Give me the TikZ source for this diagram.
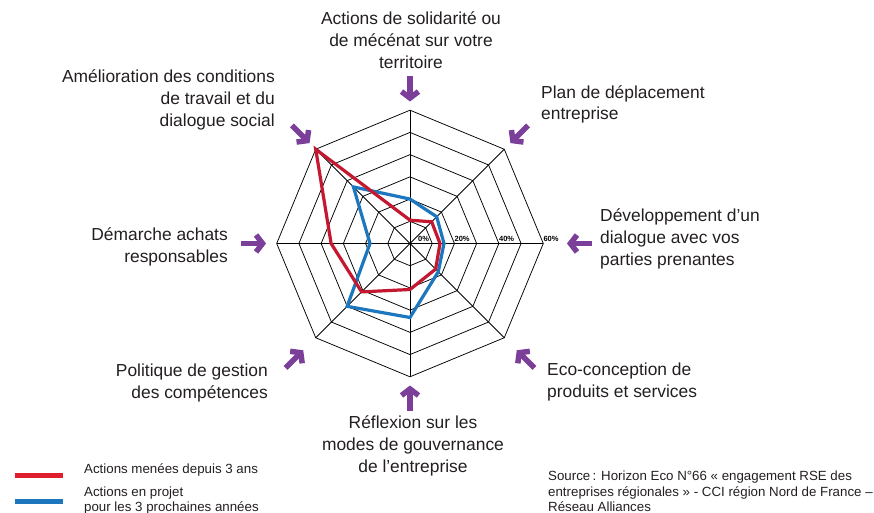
\documentclass[tikz,border=0pt]{standalone}
\usepackage{fontspec}
\setmainfont{Liberation Sans}
\usetikzlibrary{arrows.meta}
\definecolor{rougeserie}{HTML}{C3182F}
\definecolor{rougeleg}{HTML}{DF1F2D}
\definecolor{bleuserie}{HTML}{1C77BE}
\definecolor{violetfl}{HTML}{7B3F99}
\definecolor{texte}{HTML}{231F20}
\tikzset{
    grille/.style={black, line width=0.75pt}, % 网格线
    serie/.style={line width=3.2pt}, % 数据折线
    fleche/.style={violetfl, line width=5.5pt, -{Straight Barb[length=6.5pt, width=17pt]}}, % 紫色箭头
    axe label/.style={font=\fontsize{17.4}{21.8}\selectfont, text=texte, inner sep=0pt},
    petit/.style={font=\fontsize{13.3}{15.5}\selectfont, text=texte, inner sep=0pt}
}
\begin{document}
\begin{tikzpicture}[x=1pt, y=1pt]
            \def\u{2.222} \def\R{133.3}
            \useasboundingbox (-410, -269.5) rectangle (464, 243.5);

            \foreach \k in {1,...,6} {\draw[grille] (0:\k*\R/6) \foreach \a in {45,90,...,315} {-- (\a:\k*\R/6)} -- cycle;}
            \foreach \a in {0,45,...,315} {\draw[grille] (0,0) -- (\a:\R);}
            \foreach \p/\r in {0/8, 20/44.4, 40/88.9, 60/133.3} {\node[anchor=base west, inner sep=0pt, font=\fontsize{7.5}{8}\selectfont\bfseries] (pct\p) at (\r, 2) {\p\%};}

            \draw[serie, bleuserie] (90:20*\u) -- (45:17*\u) -- (0:15.3*\u) -- (-45:18*\u) -- (-90:33.3*\u) -- (-135:40*\u) -- (180:18*\u) -- (135:36*\u) -- cycle;
            \draw[serie, rougeserie] (90:10.5*\u) -- (45:13.8*\u) -- (0:13.5*\u) -- (-45:16.3*\u) -- (-90:20.7*\u) -- (-135:30.8*\u) -- (180:35.5*\u) -- (135:60*\u) -- cycle;

            \foreach \a/\r [count=\i] in {90/142, 45/142, 0/157, -45/151, -90/142, -135/151, 180/144, 135/142} {
                \coordinate (pointe\i) at (\a:\r);
                \coordinate (queue\i) at (\a:\r+25);
                \draw[fleche] (queue\i) -- (pointe\i);
            }

            \node[axe label, align=center] (solidarite) at (1, 203.5) {Actions de solidarité ou\\de mécénat sur votre\\territoire};
            \node[axe label, align=left, anchor=west] (deplacement) at (131, 139) {Plan de déplacement\\entreprise};
            \node[axe label, align=left, anchor=west] (dialogue) at (190, 4.5) {Développement d’un\\dialogue avec vos\\parties prenantes};
            \node[axe label, align=left, anchor=west] (ecoconception) at (137, -138.5) {Eco-conception de\\produits et services};
            \node[axe label, align=center] (gouvernance) at (3, -202.5) {Réflexion sur les\\modes de gouvernance\\de l’entreprise};
            \node[axe label, align=right, anchor=east] (competences) at (-142, -139.5) {Politique de gestion\\des compétences};
            \node[axe label, align=right, anchor=east] (achats) at (-182, -3.5) {Démarche achats\\responsables};
            \node[axe label, align=right, anchor=east] (conditions) at (-135, 143.5) {Amélioration des conditions\\de travail et du\\dialogue social};

            \coordinate (legA) at (-395, -231.5); \coordinate (legB) at (-347, -231.5);
            \coordinate (legC) at (-395, -257.5); \coordinate (legD) at (-347, -257.5);
            \draw[rougeleg, line width=5pt] (legA) -- (legB);
            \draw[bleuserie, line width=5pt] (legC) -- (legD);
            \node[petit, anchor=west] (menees) at (-326, -226.5) {Actions menées depuis 3 ans};
            \node[petit, anchor=west, align=left] (projet) at (-326, -257) {Actions en projet\\pour les 3 prochaines années};
            \node[petit, anchor=west, align=left] (source) at (138, -248) {Source\,: Horizon Eco N°66 «~engagement RSE des\\entreprises régionales~» - CCI région Nord de France –\\Réseau Alliances};
        \end{tikzpicture}
\end{document}
